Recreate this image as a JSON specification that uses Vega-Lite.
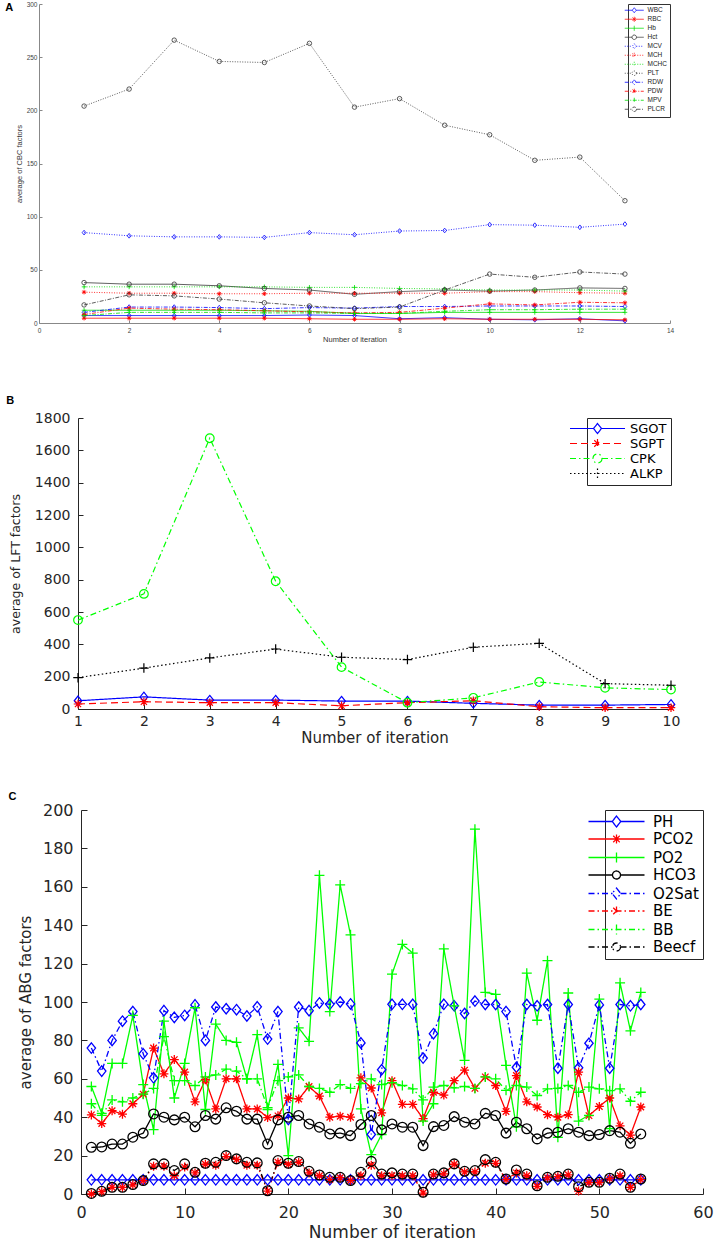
{
  "$schema": "https://vega.github.io/schema/vega-lite/v6.json",
  "background": "white",
  "padding": {"left": 5, "top": 1, "right": 0, "bottom": 0},
  "config": {"view": {"stroke": null}, "axis": {"grid": false, "labelOverlap": false, "labelFlush": false, "titleFontWeight": "normal", "format": "d"}},
  "datasets": {
    "a": [
      {"s":"WBC","i":1,"v":7},{"s":"WBC","i":2,"v":7},{"s":"WBC","i":3,"v":7},{"s":"WBC","i":4,"v":7},{"s":"WBC","i":5,"v":7},{"s":"WBC","i":6,"v":7.5},{"s":"WBC","i":7,"v":7},{"s":"WBC","i":8,"v":4},{"s":"WBC","i":9,"v":5},{"s":"WBC","i":10,"v":3.5},{"s":"WBC","i":11,"v":3},{"s":"WBC","i":12,"v":4},{"s":"WBC","i":13,"v":2},
      {"s":"RBC","i":1,"v":4.5},{"s":"RBC","i":2,"v":4.5},{"s":"RBC","i":3,"v":4.5},{"s":"RBC","i":4,"v":4.5},{"s":"RBC","i":5,"v":4.5},{"s":"RBC","i":6,"v":4},{"s":"RBC","i":7,"v":3.5},{"s":"RBC","i":8,"v":3.5},{"s":"RBC","i":9,"v":4},{"s":"RBC","i":10,"v":3.5},{"s":"RBC","i":11,"v":3.5},{"s":"RBC","i":12,"v":3.5},{"s":"RBC","i":13,"v":3},
      {"s":"Hb","i":1,"v":12},{"s":"Hb","i":2,"v":12},{"s":"Hb","i":3,"v":12},{"s":"Hb","i":4,"v":12},{"s":"Hb","i":5,"v":11.5},{"s":"Hb","i":6,"v":11},{"s":"Hb","i":7,"v":9},{"s":"Hb","i":8,"v":9},{"s":"Hb","i":9,"v":10},{"s":"Hb","i":10,"v":10},{"s":"Hb","i":11,"v":10},{"s":"Hb","i":12,"v":10},{"s":"Hb","i":13,"v":10},
      {"s":"Hct","i":1,"v":38},{"s":"Hct","i":2,"v":36.5},{"s":"Hct","i":3,"v":36.5},{"s":"Hct","i":4,"v":35},{"s":"Hct","i":5,"v":32.5},{"s":"Hct","i":6,"v":31},{"s":"Hct","i":7,"v":27},{"s":"Hct","i":8,"v":29.5},{"s":"Hct","i":9,"v":31},{"s":"Hct","i":10,"v":30},{"s":"Hct","i":11,"v":31},{"s":"Hct","i":12,"v":33},{"s":"Hct","i":13,"v":32.5},
      {"s":"MCV","i":1,"v":85},{"s":"MCV","i":2,"v":82},{"s":"MCV","i":3,"v":81},{"s":"MCV","i":4,"v":81},{"s":"MCV","i":5,"v":80.5},{"s":"MCV","i":6,"v":85},{"s":"MCV","i":7,"v":83},{"s":"MCV","i":8,"v":86.5},{"s":"MCV","i":9,"v":87},{"s":"MCV","i":10,"v":92.5},{"s":"MCV","i":11,"v":92},{"s":"MCV","i":12,"v":90},{"s":"MCV","i":13,"v":93},
      {"s":"MCH","i":1,"v":29},{"s":"MCH","i":2,"v":28},{"s":"MCH","i":3,"v":28},{"s":"MCH","i":4,"v":27.5},{"s":"MCH","i":5,"v":27.5},{"s":"MCH","i":6,"v":28},{"s":"MCH","i":7,"v":28},{"s":"MCH","i":8,"v":28},{"s":"MCH","i":9,"v":28},{"s":"MCH","i":10,"v":29.5},{"s":"MCH","i":11,"v":29.5},{"s":"MCH","i":12,"v":28.5},{"s":"MCH","i":13,"v":28},
      {"s":"MCHC","i":1,"v":34},{"s":"MCHC","i":2,"v":34},{"s":"MCHC","i":3,"v":34},{"s":"MCHC","i":4,"v":34},{"s":"MCHC","i":5,"v":34},{"s":"MCHC","i":6,"v":33.5},{"s":"MCHC","i":7,"v":33.5},{"s":"MCHC","i":8,"v":32.5},{"s":"MCHC","i":9,"v":32},{"s":"MCHC","i":10,"v":31},{"s":"MCHC","i":11,"v":31},{"s":"MCHC","i":12,"v":31},{"s":"MCHC","i":13,"v":30},
      {"s":"PLT","i":1,"v":204},{"s":"PLT","i":2,"v":220},{"s":"PLT","i":3,"v":266},{"s":"PLT","i":4,"v":246},{"s":"PLT","i":5,"v":245},{"s":"PLT","i":6,"v":263},{"s":"PLT","i":7,"v":203},{"s":"PLT","i":8,"v":211},{"s":"PLT","i":9,"v":186},{"s":"PLT","i":10,"v":177},{"s":"PLT","i":11,"v":153},{"s":"PLT","i":12,"v":156},{"s":"PLT","i":13,"v":115},
      {"s":"RDW","i":1,"v":10},{"s":"RDW","i":2,"v":15},{"s":"RDW","i":3,"v":15},{"s":"RDW","i":4,"v":14.5},{"s":"RDW","i":5,"v":13.5},{"s":"RDW","i":6,"v":14.5},{"s":"RDW","i":7,"v":14},{"s":"RDW","i":8,"v":15.5},{"s":"RDW","i":9,"v":15.5},{"s":"RDW","i":10,"v":16},{"s":"RDW","i":11,"v":16},{"s":"RDW","i":12,"v":16},{"s":"RDW","i":13,"v":15.5},
      {"s":"PDW","i":1,"v":8},{"s":"PDW","i":2,"v":14},{"s":"PDW","i":3,"v":13},{"s":"PDW","i":4,"v":12.5},{"s":"PDW","i":5,"v":11.5},{"s":"PDW","i":6,"v":10.5},{"s":"PDW","i":7,"v":9.5},{"s":"PDW","i":8,"v":10},{"s":"PDW","i":9,"v":14},{"s":"PDW","i":10,"v":18},{"s":"PDW","i":11,"v":17},{"s":"PDW","i":12,"v":19.5},{"s":"PDW","i":13,"v":19},
      {"s":"MPV","i":1,"v":7},{"s":"MPV","i":2,"v":10},{"s":"MPV","i":3,"v":10},{"s":"MPV","i":4,"v":10},{"s":"MPV","i":5,"v":9.5},{"s":"MPV","i":6,"v":9.5},{"s":"MPV","i":7,"v":9},{"s":"MPV","i":8,"v":9},{"s":"MPV","i":9,"v":11},{"s":"MPV","i":10,"v":12.5},{"s":"MPV","i":11,"v":12.5},{"s":"MPV","i":12,"v":13},{"s":"MPV","i":13,"v":13},
      {"s":"PLCR","i":1,"v":17},{"s":"PLCR","i":2,"v":26.5},{"s":"PLCR","i":3,"v":25.5},{"s":"PLCR","i":4,"v":22.5},{"s":"PLCR","i":5,"v":19},{"s":"PLCR","i":6,"v":16},{"s":"PLCR","i":7,"v":13.5},{"s":"PLCR","i":8,"v":15},{"s":"PLCR","i":9,"v":31},{"s":"PLCR","i":10,"v":46},{"s":"PLCR","i":11,"v":43},{"s":"PLCR","i":12,"v":48},{"s":"PLCR","i":13,"v":46}
    ],
    "b": [
      {"s":"SGOT","i":1,"v":51},{"s":"SGOT","i":2,"v":75},{"s":"SGOT","i":3,"v":55},{"s":"SGOT","i":4,"v":55},{"s":"SGOT","i":5,"v":49},{"s":"SGOT","i":6,"v":49},{"s":"SGOT","i":7,"v":35},{"s":"SGOT","i":8,"v":24},{"s":"SGOT","i":9,"v":24},{"s":"SGOT","i":10,"v":28},
      {"s":"SGPT","i":1,"v":31},{"s":"SGPT","i":2,"v":45},{"s":"SGPT","i":3,"v":39},{"s":"SGPT","i":4,"v":39},{"s":"SGPT","i":5,"v":20},{"s":"SGPT","i":6,"v":39},{"s":"SGPT","i":7,"v":51},{"s":"SGPT","i":8,"v":14},{"s":"SGPT","i":9,"v":8},{"s":"SGPT","i":10,"v":8},
      {"s":"CPK","i":1,"v":550},{"s":"CPK","i":2,"v":712},{"s":"CPK","i":3,"v":1675},{"s":"CPK","i":4,"v":790},{"s":"CPK","i":5,"v":259},{"s":"CPK","i":6,"v":39},{"s":"CPK","i":7,"v":69},{"s":"CPK","i":8,"v":167},{"s":"CPK","i":9,"v":131},{"s":"CPK","i":10,"v":120},
      {"s":"ALKP","i":1,"v":194},{"s":"ALKP","i":2,"v":253},{"s":"ALKP","i":3,"v":316},{"s":"ALKP","i":4,"v":371},{"s":"ALKP","i":5,"v":320},{"s":"ALKP","i":6,"v":306},{"s":"ALKP","i":7,"v":382},{"s":"ALKP","i":8,"v":406},{"s":"ALKP","i":9,"v":157},{"s":"ALKP","i":10,"v":147}
    ],
    "c": [
      {"s":"PH","i":1,"v":7.4},{"s":"PH","i":2,"v":7.4},{"s":"PH","i":3,"v":7.4},{"s":"PH","i":4,"v":7.4},{"s":"PH","i":5,"v":7.4},{"s":"PH","i":6,"v":7.4},{"s":"PH","i":7,"v":7.4},{"s":"PH","i":8,"v":7.4},{"s":"PH","i":9,"v":7.4},{"s":"PH","i":10,"v":7.4},{"s":"PH","i":11,"v":7.4},{"s":"PH","i":12,"v":7.4},{"s":"PH","i":13,"v":7.4},{"s":"PH","i":14,"v":7.4},{"s":"PH","i":15,"v":7.4},{"s":"PH","i":16,"v":7.4},{"s":"PH","i":17,"v":7.4},{"s":"PH","i":18,"v":7.4},{"s":"PH","i":19,"v":7.4},{"s":"PH","i":20,"v":7.4},{"s":"PH","i":21,"v":7.4},{"s":"PH","i":22,"v":7.4},{"s":"PH","i":23,"v":7.4},{"s":"PH","i":24,"v":7.4},{"s":"PH","i":25,"v":7.4},{"s":"PH","i":26,"v":7.4},{"s":"PH","i":27,"v":7.4},{"s":"PH","i":28,"v":7.4},{"s":"PH","i":29,"v":7.4},{"s":"PH","i":30,"v":7.4},{"s":"PH","i":31,"v":7.4},{"s":"PH","i":32,"v":7.4},{"s":"PH","i":33,"v":7.4},{"s":"PH","i":34,"v":7.4},{"s":"PH","i":35,"v":7.4},{"s":"PH","i":36,"v":7.4},{"s":"PH","i":37,"v":7.4},{"s":"PH","i":38,"v":7.4},{"s":"PH","i":39,"v":7.4},{"s":"PH","i":40,"v":7.4},{"s":"PH","i":41,"v":7.4},{"s":"PH","i":42,"v":7.4},{"s":"PH","i":43,"v":7.4},{"s":"PH","i":44,"v":7.4},{"s":"PH","i":45,"v":7.4},{"s":"PH","i":46,"v":7.4},{"s":"PH","i":47,"v":7.4},{"s":"PH","i":48,"v":7.4},{"s":"PH","i":49,"v":7.4},{"s":"PH","i":50,"v":7.4},{"s":"PH","i":51,"v":7.4},{"s":"PH","i":52,"v":7.4},{"s":"PH","i":53,"v":7.4},{"s":"PH","i":54,"v":7.4},
      {"s":"PCO2","i":1,"v":41.2},{"s":"PCO2","i":2,"v":36.7},{"s":"PCO2","i":3,"v":43.4},{"s":"PCO2","i":4,"v":41.6},{"s":"PCO2","i":5,"v":47},{"s":"PCO2","i":6,"v":52},{"s":"PCO2","i":7,"v":76},{"s":"PCO2","i":8,"v":62.6},{"s":"PCO2","i":9,"v":70},{"s":"PCO2","i":10,"v":63.5},{"s":"PCO2","i":11,"v":48},{"s":"PCO2","i":12,"v":59.5},{"s":"PCO2","i":13,"v":44.3},{"s":"PCO2","i":14,"v":60},{"s":"PCO2","i":15,"v":60},{"s":"PCO2","i":16,"v":44.3},{"s":"PCO2","i":17,"v":44.3},{"s":"PCO2","i":18,"v":39.8},{"s":"PCO2","i":19,"v":40.7},{"s":"PCO2","i":20,"v":50},{"s":"PCO2","i":21,"v":49.5},{"s":"PCO2","i":22,"v":56},{"s":"PCO2","i":23,"v":51},{"s":"PCO2","i":24,"v":40},{"s":"PCO2","i":25,"v":40.5},{"s":"PCO2","i":26,"v":40},{"s":"PCO2","i":27,"v":60.5},{"s":"PCO2","i":28,"v":55.2},{"s":"PCO2","i":29,"v":42.3},{"s":"PCO2","i":30,"v":59},{"s":"PCO2","i":31,"v":46.7},{"s":"PCO2","i":32,"v":46.7},{"s":"PCO2","i":33,"v":39.3},{"s":"PCO2","i":34,"v":53},{"s":"PCO2","i":35,"v":51.5},{"s":"PCO2","i":36,"v":59},{"s":"PCO2","i":37,"v":64.5},{"s":"PCO2","i":38,"v":55},{"s":"PCO2","i":39,"v":61},{"s":"PCO2","i":40,"v":56.5},{"s":"PCO2","i":41,"v":43},{"s":"PCO2","i":42,"v":61.7},{"s":"PCO2","i":43,"v":48},{"s":"PCO2","i":44,"v":45.3},{"s":"PCO2","i":45,"v":41.3},{"s":"PCO2","i":46,"v":40},{"s":"PCO2","i":47,"v":41.3},{"s":"PCO2","i":48,"v":63.5},{"s":"PCO2","i":49,"v":40.8},{"s":"PCO2","i":50,"v":45.6},{"s":"PCO2","i":51,"v":50},{"s":"PCO2","i":52,"v":35.5},{"s":"PCO2","i":53,"v":30.7},{"s":"PCO2","i":54,"v":45.3},
      {"s":"PO2","i":1,"v":56},{"s":"PO2","i":2,"v":42},{"s":"PO2","i":3,"v":68},{"s":"PO2","i":4,"v":68},{"s":"PO2","i":5,"v":93},{"s":"PO2","i":6,"v":57},{"s":"PO2","i":7,"v":33.5},{"s":"PO2","i":8,"v":90},{"s":"PO2","i":9,"v":50},{"s":"PO2","i":10,"v":68},{"s":"PO2","i":11,"v":97},{"s":"PO2","i":12,"v":44},{"s":"PO2","i":13,"v":88.5},{"s":"PO2","i":14,"v":80},{"s":"PO2","i":15,"v":79},{"s":"PO2","i":16,"v":60},{"s":"PO2","i":17,"v":83},{"s":"PO2","i":18,"v":44},{"s":"PO2","i":19,"v":67.5},{"s":"PO2","i":20,"v":20},{"s":"PO2","i":21,"v":86.5},{"s":"PO2","i":22,"v":79.5},{"s":"PO2","i":23,"v":166},{"s":"PO2","i":24,"v":95},{"s":"PO2","i":25,"v":161},{"s":"PO2","i":26,"v":135},{"s":"PO2","i":27,"v":44.3},{"s":"PO2","i":28,"v":20.5},{"s":"PO2","i":29,"v":31},{"s":"PO2","i":30,"v":114.5},{"s":"PO2","i":31,"v":130},{"s":"PO2","i":32,"v":125.5},{"s":"PO2","i":33,"v":38},{"s":"PO2","i":34,"v":47},{"s":"PO2","i":35,"v":127.7},{"s":"PO2","i":36,"v":98},{"s":"PO2","i":37,"v":69.6},{"s":"PO2","i":38,"v":190},{"s":"PO2","i":39,"v":105},{"s":"PO2","i":40,"v":104},{"s":"PO2","i":41,"v":67},{"s":"PO2","i":42,"v":35},{"s":"PO2","i":43,"v":115},{"s":"PO2","i":44,"v":90.5},{"s":"PO2","i":45,"v":121.5},{"s":"PO2","i":46,"v":29.5},{"s":"PO2","i":47,"v":104.7},{"s":"PO2","i":48,"v":38},{"s":"PO2","i":49,"v":41},{"s":"PO2","i":50,"v":101.5},{"s":"PO2","i":51,"v":34},{"s":"PO2","i":52,"v":110},{"s":"PO2","i":53,"v":85},{"s":"PO2","i":54,"v":105},
      {"s":"HCO3","i":1,"v":24.3},{"s":"HCO3","i":2,"v":24.5},{"s":"HCO3","i":3,"v":26},{"s":"HCO3","i":4,"v":26},{"s":"HCO3","i":5,"v":29.6},{"s":"HCO3","i":6,"v":31.7},{"s":"HCO3","i":7,"v":41.7},{"s":"HCO3","i":8,"v":40},{"s":"HCO3","i":9,"v":38.6},{"s":"HCO3","i":10,"v":40},{"s":"HCO3","i":11,"v":35},{"s":"HCO3","i":12,"v":40.9},{"s":"HCO3","i":13,"v":39},{"s":"HCO3","i":14,"v":44.9},{"s":"HCO3","i":15,"v":43.1},{"s":"HCO3","i":16,"v":39},{"s":"HCO3","i":17,"v":39},{"s":"HCO3","i":18,"v":26},{"s":"HCO3","i":19,"v":38.6},{"s":"HCO3","i":20,"v":40},{"s":"HCO3","i":21,"v":40.9},{"s":"HCO3","i":22,"v":36.5},{"s":"HCO3","i":23,"v":34.8},{"s":"HCO3","i":24,"v":31.3},{"s":"HCO3","i":25,"v":31.7},{"s":"HCO3","i":26,"v":30.4},{"s":"HCO3","i":27,"v":36.2},{"s":"HCO3","i":28,"v":40.9},{"s":"HCO3","i":29,"v":33.4},{"s":"HCO3","i":30,"v":36.5},{"s":"HCO3","i":31,"v":34.8},{"s":"HCO3","i":32,"v":34.8},{"s":"HCO3","i":33,"v":25.2},{"s":"HCO3","i":34,"v":35.1},{"s":"HCO3","i":35,"v":35.7},{"s":"HCO3","i":36,"v":40.3},{"s":"HCO3","i":37,"v":37.4},{"s":"HCO3","i":38,"v":36.5},{"s":"HCO3","i":39,"v":42},{"s":"HCO3","i":40,"v":40.9},{"s":"HCO3","i":41,"v":31.7},{"s":"HCO3","i":42,"v":37.4},{"s":"HCO3","i":43,"v":34},{"s":"HCO3","i":44,"v":28.7},{"s":"HCO3","i":45,"v":31.7},{"s":"HCO3","i":46,"v":32.2},{"s":"HCO3","i":47,"v":34},{"s":"HCO3","i":48,"v":32.2},{"s":"HCO3","i":49,"v":30.4},{"s":"HCO3","i":50,"v":31},{"s":"HCO3","i":51,"v":33},{"s":"HCO3","i":52,"v":32.2},{"s":"HCO3","i":53,"v":26.4},{"s":"HCO3","i":54,"v":31.3},
      {"s":"O2Sat","i":1,"v":76},{"s":"O2Sat","i":2,"v":64},{"s":"O2Sat","i":3,"v":80},{"s":"O2Sat","i":4,"v":90},{"s":"O2Sat","i":5,"v":95},{"s":"O2Sat","i":6,"v":73},{"s":"O2Sat","i":7,"v":60.5},{"s":"O2Sat","i":8,"v":95.5},{"s":"O2Sat","i":9,"v":92},{"s":"O2Sat","i":10,"v":93},{"s":"O2Sat","i":11,"v":98.5},{"s":"O2Sat","i":12,"v":80},{"s":"O2Sat","i":13,"v":97.4},{"s":"O2Sat","i":14,"v":96.5},{"s":"O2Sat","i":15,"v":96},{"s":"O2Sat","i":16,"v":92.7},{"s":"O2Sat","i":17,"v":97.5},{"s":"O2Sat","i":18,"v":80.7},{"s":"O2Sat","i":19,"v":95},{"s":"O2Sat","i":20,"v":38.8},{"s":"O2Sat","i":21,"v":97.4},{"s":"O2Sat","i":22,"v":95.5},{"s":"O2Sat","i":23,"v":99.5},{"s":"O2Sat","i":24,"v":98.8},{"s":"O2Sat","i":25,"v":100},{"s":"O2Sat","i":26,"v":99},{"s":"O2Sat","i":27,"v":78.7},{"s":"O2Sat","i":28,"v":31},{"s":"O2Sat","i":29,"v":64.7},{"s":"O2Sat","i":30,"v":98.8},{"s":"O2Sat","i":31,"v":98.8},{"s":"O2Sat","i":32,"v":98.8},{"s":"O2Sat","i":33,"v":70.8},{"s":"O2Sat","i":34,"v":83.5},{"s":"O2Sat","i":35,"v":98.8},{"s":"O2Sat","i":36,"v":98},{"s":"O2Sat","i":37,"v":94},{"s":"O2Sat","i":38,"v":100.5},{"s":"O2Sat","i":39,"v":98.7},{"s":"O2Sat","i":40,"v":98.7},{"s":"O2Sat","i":41,"v":95},{"s":"O2Sat","i":42,"v":66},{"s":"O2Sat","i":43,"v":98.7},{"s":"O2Sat","i":44,"v":98},{"s":"O2Sat","i":45,"v":98.7},{"s":"O2Sat","i":46,"v":65.5},{"s":"O2Sat","i":47,"v":98.7},{"s":"O2Sat","i":48,"v":65.7},{"s":"O2Sat","i":49,"v":78.5},{"s":"O2Sat","i":50,"v":98.5},{"s":"O2Sat","i":51,"v":65.5},{"s":"O2Sat","i":52,"v":98.7},{"s":"O2Sat","i":53,"v":98},{"s":"O2Sat","i":54,"v":98.7},
      {"s":"BE","i":1,"v":0},{"s":"BE","i":2,"v":1.2},{"s":"BE","i":3,"v":3.5},{"s":"BE","i":4,"v":3.4},{"s":"BE","i":5,"v":4.8},{"s":"BE","i":6,"v":7},{"s":"BE","i":7,"v":14.5},{"s":"BE","i":8,"v":14.5},{"s":"BE","i":9,"v":9.5},{"s":"BE","i":10,"v":14},{"s":"BE","i":11,"v":11},{"s":"BE","i":12,"v":15.5},{"s":"BE","i":13,"v":15},{"s":"BE","i":14,"v":19.5},{"s":"BE","i":15,"v":18},{"s":"BE","i":16,"v":15},{"s":"BE","i":17,"v":15},{"s":"BE","i":18,"v":1.5},{"s":"BE","i":19,"v":16.5},{"s":"BE","i":20,"v":15.5},{"s":"BE","i":21,"v":16.5},{"s":"BE","i":22,"v":11},{"s":"BE","i":23,"v":9.5},{"s":"BE","i":24,"v":7.5},{"s":"BE","i":25,"v":8.5},{"s":"BE","i":26,"v":7},{"s":"BE","i":27,"v":9.5},{"s":"BE","i":28,"v":15},{"s":"BE","i":29,"v":9.5},{"s":"BE","i":30,"v":9.5},{"s":"BE","i":31,"v":9.5},{"s":"BE","i":32,"v":9.5},{"s":"BE","i":33,"v":0.5},{"s":"BE","i":34,"v":10},{"s":"BE","i":35,"v":10.5},{"s":"BE","i":36,"v":15.5},{"s":"BE","i":37,"v":11.5},{"s":"BE","i":38,"v":11.5},{"s":"BE","i":39,"v":16},{"s":"BE","i":40,"v":16},{"s":"BE","i":41,"v":7.5},{"s":"BE","i":42,"v":11},{"s":"BE","i":43,"v":9.5},{"s":"BE","i":44,"v":4},{"s":"BE","i":45,"v":8.5},{"s":"BE","i":46,"v":9},{"s":"BE","i":47,"v":10},{"s":"BE","i":48,"v":1.5},{"s":"BE","i":49,"v":6},{"s":"BE","i":50,"v":6},{"s":"BE","i":51,"v":8},{"s":"BE","i":52,"v":9.5},{"s":"BE","i":53,"v":3.5},{"s":"BE","i":54,"v":7.5},
      {"s":"BB","i":1,"v":47},{"s":"BB","i":2,"v":41},{"s":"BB","i":3,"v":49},{"s":"BB","i":4,"v":48},{"s":"BB","i":5,"v":50},{"s":"BB","i":6,"v":52},{"s":"BB","i":7,"v":55},{"s":"BB","i":8,"v":82},{"s":"BB","i":9,"v":59},{"s":"BB","i":10,"v":59},{"s":"BB","i":11,"v":56.5},{"s":"BB","i":12,"v":61},{"s":"BB","i":13,"v":62},{"s":"BB","i":14,"v":65},{"s":"BB","i":15,"v":64},{"s":"BB","i":16,"v":60},{"s":"BB","i":17,"v":60},{"s":"BB","i":18,"v":45},{"s":"BB","i":19,"v":59},{"s":"BB","i":20,"v":61},{"s":"BB","i":21,"v":62},{"s":"BB","i":22,"v":56},{"s":"BB","i":23,"v":55},{"s":"BB","i":24,"v":53},{"s":"BB","i":25,"v":57},{"s":"BB","i":26,"v":55},{"s":"BB","i":27,"v":57.5},{"s":"BB","i":28,"v":60},{"s":"BB","i":29,"v":57},{"s":"BB","i":30,"v":58},{"s":"BB","i":31,"v":56.5},{"s":"BB","i":32,"v":54.8},{"s":"BB","i":33,"v":49},{"s":"BB","i":34,"v":55.7},{"s":"BB","i":35,"v":56.5},{"s":"BB","i":36,"v":55.3},{"s":"BB","i":37,"v":56},{"s":"BB","i":38,"v":55},{"s":"BB","i":39,"v":61},{"s":"BB","i":40,"v":60},{"s":"BB","i":41,"v":54},{"s":"BB","i":42,"v":56.5},{"s":"BB","i":43,"v":55.7},{"s":"BB","i":44,"v":51.3},{"s":"BB","i":45,"v":54.8},{"s":"BB","i":46,"v":55},{"s":"BB","i":47,"v":56.5},{"s":"BB","i":48,"v":53},{"s":"BB","i":49,"v":55.7},{"s":"BB","i":50,"v":54.8},{"s":"BB","i":51,"v":53.8},{"s":"BB","i":52,"v":54.8},{"s":"BB","i":53,"v":48.3},{"s":"BB","i":54,"v":53},
      {"s":"Beecf","i":1,"v":0.3},{"s":"Beecf","i":2,"v":1.4},{"s":"Beecf","i":3,"v":3.5},{"s":"Beecf","i":4,"v":3.5},{"s":"Beecf","i":5,"v":4.9},{"s":"Beecf","i":6,"v":7},{"s":"Beecf","i":7,"v":15.7},{"s":"Beecf","i":8,"v":15.7},{"s":"Beecf","i":9,"v":12.2},{"s":"Beecf","i":10,"v":15.7},{"s":"Beecf","i":11,"v":11.3},{"s":"Beecf","i":12,"v":16},{"s":"Beecf","i":13,"v":16.5},{"s":"Beecf","i":14,"v":20},{"s":"Beecf","i":15,"v":18.3},{"s":"Beecf","i":16,"v":16.5},{"s":"Beecf","i":17,"v":16.2},{"s":"Beecf","i":18,"v":1.7},{"s":"Beecf","i":19,"v":17.4},{"s":"Beecf","i":20,"v":16},{"s":"Beecf","i":21,"v":16.9},{"s":"Beecf","i":22,"v":11.8},{"s":"Beecf","i":23,"v":9.9},{"s":"Beecf","i":24,"v":8.7},{"s":"Beecf","i":25,"v":8.7},{"s":"Beecf","i":26,"v":7},{"s":"Beecf","i":27,"v":11.3},{"s":"Beecf","i":28,"v":17},{"s":"Beecf","i":29,"v":10.4},{"s":"Beecf","i":30,"v":11},{"s":"Beecf","i":31,"v":10.4},{"s":"Beecf","i":32,"v":10.4},{"s":"Beecf","i":33,"v":0.9},{"s":"Beecf","i":34,"v":10.4},{"s":"Beecf","i":35,"v":11},{"s":"Beecf","i":36,"v":15.7},{"s":"Beecf","i":37,"v":11.8},{"s":"Beecf","i":38,"v":12.2},{"s":"Beecf","i":39,"v":17.9},{"s":"Beecf","i":40,"v":16.5},{"s":"Beecf","i":41,"v":7.8},{"s":"Beecf","i":42,"v":12.5},{"s":"Beecf","i":43,"v":10.4},{"s":"Beecf","i":44,"v":4.3},{"s":"Beecf","i":45,"v":8.7},{"s":"Beecf","i":46,"v":9.2},{"s":"Beecf","i":47,"v":10.4},{"s":"Beecf","i":48,"v":3.8},{"s":"Beecf","i":49,"v":6.1},{"s":"Beecf","i":50,"v":6.1},{"s":"Beecf","i":51,"v":8.2},{"s":"Beecf","i":52,"v":10.4},{"s":"Beecf","i":53,"v":3.5},{"s":"Beecf","i":54,"v":7.8}
    ]
  },
  "columns": 1,
  "align": "none",
  "spacing": 52,
  "resolve": {"scale": {"color": "independent", "strokeDash": "independent"}, "legend": {"color": "independent", "strokeDash": "independent"}},
  "concat": [
    {
      "width": 592, "height": 319,
      "data": {"name": "a"},
      "title": {"text": "A", "anchor": "start", "frame": "bounds", "font": "Liberation Sans", "fontSize": 11, "fontWeight": "bold", "color": "#000", "offset": -12, "dx": -10},
      "encoding": {
        "x": {"field": "i", "type": "quantitative", "scale": {"domain": [0, 14], "nice": false, "range": [-39, 592]},
          "axis": {"values": [0,2,4,6,8,10,12,14], "title": "Number of iteration", "labelFont": "Liberation Sans", "labelFontSize": 6.5, "titleFont": "Liberation Sans", "titleFontSize": 7.5, "labelColor": "#444", "titleColor": "#333", "domainColor": "#888", "tickColor": "#888", "tickSize": -3, "labelPadding": 7, "titlePadding": 2}},
        "y": {"field": "v", "type": "quantitative", "scale": {"domain": [0, 300], "nice": false},
          "axis": {"values": [0,50,100,150,200,250,300], "offset": 39, "title": "average of CBC factors", "labelFont": "Liberation Sans", "labelFontSize": 6.5, "titleFont": "Liberation Sans", "titleFontSize": 7.5, "labelColor": "#444", "titleColor": "#333", "domainColor": "#888", "tickColor": "#888", "tickSize": -3, "labelPadding": 5, "titlePadding": 3}},
        "color": {"field": "s", "type": "nominal", "legend": null,
          "scale": {"domain": ["WBC","RBC","Hb","Hct","MCV","MCH","MCHC","PLT","RDW","PDW","MPV","PLCR"], "range": ["#0000ff","#ff0000","#00dd00","#333333","#0000ff","#ff0000","#00dd00","#333333","#0000ff","#ff0000","#00dd00","#333333"]}}
      },
      "layer": [
        {"mark": {"type": "line", "strokeWidth": 0.8},
         "encoding": {
           "color": {"field": "s", "type": "nominal",
             "legend": {"title": null, "orient": "top-right", "offset": 0, "strokeColor": "#333", "fillColor": "white", "padding": 3, "labelFont": "Liberation Sans", "labelFontSize": 6.5, "labelColor": "#222", "symbolSize": 25, "symbolStrokeWidth": 0.8, "symbolOffset": 0, "labelOffset": 10, "rowPadding": 0,
               "encode": {"symbols": {"update": {
                 "shape": {"signal": "indexof(['WBC','MCV','RDW'],datum.value)>=0 ? 'M-3.8,0L-0.8,0M0.8,0L3.8,0M0,-1L0.8,0L0,1L-0.8,0Z' : indexof(['RBC','MCH','PDW'],datum.value)>=0 ? 'M-3.8,0L3.8,0M0,-1L0,1M-0.7,-0.7L0.7,0.7M-0.7,0.7L0.7,-0.7' : indexof(['Hb','MCHC','MPV'],datum.value)>=0 ? 'M-3.8,0L3.8,0M0,-1L0,1' : 'M-3.8,0L-0.9,0M0.9,0L3.8,0M0.9,0A0.9,0.9,0,1,1,-0.9,0A0.9,0.9,0,1,1,0.9,0'"},
                 "strokeDash": {"signal": "indexof(['MCV','MCH','MCHC','PLT'],datum.value)>=0 ? [1,1.5] : indexof(['RDW','PDW','MPV','PLCR'],datum.value)>=0 ? [4,1.5,1,1.5] : [1,0]"},
                 "fill": {"value": "transparent"}}}}}},
           "strokeDash": {"field": "s", "type": "nominal", "legend": null,
             "scale": {"domain": ["WBC","RBC","Hb","Hct","MCV","MCH","MCHC","PLT","RDW","PDW","MPV","PLCR"], "range": [[1,0],[1,0],[1,0],[1,0],[1,1.5],[1,1.5],[1,1.5],[1,1.5],[4,1.5,1,1.5],[4,1.5,1,1.5],[4,1.5,1,1.5],[4,1.5,1,1.5]]}}
         }},
        {"transform": [{"filter": {"field": "s", "oneOf": ["WBC","MCV","RDW"]}}],
         "mark": {"type": "point", "shape": "M0,-1L0.8,0L0,1L-0.8,0Z", "filled": false, "size": 22, "strokeWidth": 0.8, "opacity": 1}},
        {"transform": [{"filter": {"field": "s", "oneOf": ["RBC","MCH","PDW"]}}],
         "mark": {"type": "point", "shape": "M-1,0L1,0M0,-1L0,1M-0.7,-0.7L0.7,0.7M-0.7,0.7L0.7,-0.7", "filled": false, "size": 20, "strokeWidth": 0.9, "opacity": 1}},
        {"transform": [{"filter": {"field": "s", "oneOf": ["Hb","MCHC","MPV"]}}],
         "mark": {"type": "point", "shape": "M-1,0L1,0M0,-1L0,1", "filled": false, "size": 22, "strokeWidth": 0.8, "opacity": 1}},
        {"transform": [{"filter": {"field": "s", "oneOf": ["Hct","PLT","PLCR"]}}],
         "mark": {"type": "point", "shape": "circle", "filled": false, "size": 20, "strokeWidth": 0.8, "opacity": 1}}
      ]
    },
    {
      "columns": 1,
      "align": "none",
      "spacing": 46,
      "resolve": {"scale": {"color": "independent", "strokeDash": "independent"}, "legend": {"color": "independent", "strokeDash": "independent"}},
      "concat": [
        {
          "width": 593, "height": 291,
          "data": {"name": "b"},
          "title": {"text": "B", "anchor": "start", "frame": "bounds", "font": "Liberation Sans", "fontSize": 11, "fontWeight": "bold", "color": "#000", "offset": 5, "dx": -3},
          "encoding": {
            "x": {"field": "i", "type": "quantitative", "scale": {"domain": [1, 10], "nice": false},
              "axis": {"values": [1,2,3,4,5,6,7,8,9,10], "title": "Number of iteration", "labelFont": "DejaVu Sans", "labelFontSize": 14, "titleFont": "DejaVu Sans", "titleFontSize": 15, "labelColor": "#262626", "titleColor": "#262626", "domainColor": "#262626", "tickColor": "#262626", "tickSize": -5, "labelPadding": 10, "titlePadding": 2}},
            "y": {"field": "v", "type": "quantitative", "scale": {"domain": [0, 1800], "nice": false},
              "axis": {"values": [0,200,400,600,800,1000,1200,1400,1600,1800], "title": "average of LFT factors", "labelFont": "DejaVu Sans", "labelFontSize": 14, "titleFont": "DejaVu Sans", "titleFontSize": 12.5, "labelColor": "#262626", "titleColor": "#262626", "domainColor": "#262626", "tickColor": "#262626", "tickSize": -5, "labelPadding": 13, "titlePadding": 12}},
            "color": {"field": "s", "type": "nominal", "legend": null,
              "scale": {"domain": ["SGOT","SGPT","CPK","ALKP"], "range": ["#0000ff","#ff0000","#00ff00","#000000"]}}
          },
          "layer": [
            {"mark": {"type": "line", "strokeWidth": 1.2},
             "encoding": {
               "color": {"field": "s", "type": "nominal",
                 "legend": {"title": null, "orient": "top-right", "offset": 0, "strokeColor": "#262626", "fillColor": "white", "padding": 4, "labelFont": "DejaVu Sans", "labelFontSize": 13, "labelColor": "#000", "symbolSize": 100, "symbolStrokeWidth": 1.2, "symbolOffset": 0, "labelOffset": 26, "rowPadding": 0,
                   "encode": {"symbols": {"update": {
                     "shape": {"signal": "datum.value==='SGOT' ? 'M-5.5,0L-0.8,0M0.8,0L5.5,0M0,-1L0.8,0L0,1L-0.8,0Z' : datum.value==='SGPT' ? 'M-5.5,0L5.5,0M0,-0.9L0,0.9M-0.65,-0.65L0.65,0.65M-0.65,0.65L0.65,-0.65' : datum.value==='ALKP' ? 'M-5.5,0L5.5,0M0,-1L0,1' : 'M-5.5,0L-0.9,0M0.9,0L5.5,0M0.9,0A0.9,0.9,0,1,1,-0.9,0A0.9,0.9,0,1,1,0.9,0'"},
                     "strokeDash": {"signal": "datum.value==='SGPT' ? [7,4] : datum.value==='CPK' ? [6,3,1.5,3] : datum.value==='ALKP' ? [1.5,2.5] : [1,0]"},
                     "fill": {"value": "transparent"}}}}}},
               "strokeDash": {"field": "s", "type": "nominal", "legend": null,
                 "scale": {"domain": ["SGOT","SGPT","CPK","ALKP"], "range": [[1,0],[7,4],[6,3,1.5,3],[1.5,2.5]]}}
             }},
            {"transform": [{"filter": {"field": "s", "equal": "SGOT"}}],
             "mark": {"type": "point", "shape": "M0,-1L0.8,0L0,1L-0.8,0Z", "filled": false, "size": 90, "strokeWidth": 1.2, "opacity": 1}},
            {"transform": [{"filter": {"field": "s", "equal": "SGPT"}}],
             "mark": {"type": "point", "shape": "M-0.9,0L0.9,0M0,-0.9L0,0.9M-0.65,-0.65L0.65,0.65M-0.65,0.65L0.65,-0.65", "filled": false, "size": 90, "strokeWidth": 1.2, "opacity": 1}},
            {"transform": [{"filter": {"field": "s", "equal": "CPK"}}],
             "mark": {"type": "point", "shape": "circle", "filled": false, "size": 75, "strokeWidth": 1.2, "opacity": 1}},
            {"transform": [{"filter": {"field": "s", "equal": "ALKP"}}],
             "mark": {"type": "point", "shape": "M-1,0L1,0M0,-1L0,1", "filled": false, "size": 90, "strokeWidth": 1.2, "opacity": 1}}
          ]
        },
        {
          "width": 625, "height": 384,
          "data": {"name": "c"},
          "title": {"text": "C", "anchor": "start", "frame": "bounds", "font": "Liberation Sans", "fontSize": 11, "fontWeight": "bold", "color": "#000", "offset": 0, "dx": -10},
          "encoding": {
            "x": {"field": "i", "type": "quantitative", "scale": {"domain": [0, 60], "nice": false, "range": [3, 625]},
              "axis": {"values": [0,10,20,30,40,50,60], "title": "Number of iteration", "labelFont": "DejaVu Sans", "labelFontSize": 16, "titleFont": "DejaVu Sans", "titleFontSize": 17, "labelColor": "#262626", "titleColor": "#262626", "domainColor": "#262626", "tickColor": "#262626", "tickSize": -6, "labelPadding": 16, "titlePadding": 4}},
            "y": {"field": "v", "type": "quantitative", "scale": {"domain": [0, 200], "nice": false},
              "axis": {"values": [0,20,40,60,80,100,120,140,160,180,200], "offset": -3, "title": "average of ABG factors", "labelFont": "DejaVu Sans", "labelFontSize": 16, "titleFont": "DejaVu Sans", "titleFontSize": 15, "labelColor": "#262626", "titleColor": "#262626", "domainColor": "#262626", "tickColor": "#262626", "tickSize": -6, "labelPadding": 14, "titlePadding": 9}},
            "color": {"field": "s", "type": "nominal", "legend": null,
              "scale": {"domain": ["PH","PCO2","PO2","HCO3","O2Sat","BE","BB","Beecf"], "range": ["#0000ff","#ff0000","#00ff00","#000000","#0000ff","#ff0000","#00ff00","#000000"]}}
          },
          "layer": [
            {"mark": {"type": "line", "strokeWidth": 1.3},
             "encoding": {
               "color": {"field": "s", "type": "nominal",
                 "legend": {"title": null, "orient": "top-right", "offset": 0, "strokeColor": "#262626", "fillColor": "white", "padding": 4, "labelFont": "DejaVu Sans", "labelFontSize": 15, "labelColor": "#000", "symbolSize": 100, "symbolStrokeWidth": 1.3, "symbolOffset": 0, "labelOffset": 29, "rowPadding": 1.5,
                   "encode": {"symbols": {"update": {
                     "shape": {"signal": "indexof(['PH','O2Sat'],datum.value)>=0 ? 'M-5.6,0L-0.8,0M0.8,0L5.6,0M0,-1.1L0.85,0L0,1.1L-0.85,0Z' : indexof(['PCO2','BE'],datum.value)>=0 ? 'M-5.6,0L5.6,0M0,-0.9L0,0.9M-0.65,-0.65L0.65,0.65M-0.65,0.65L0.65,-0.65' : indexof(['PO2','BB'],datum.value)>=0 ? 'M-5.6,0L5.6,0M0,-1L0,1' : 'M-5.6,0L-0.8,0M0.8,0L5.6,0M0.8,0A0.8,0.8,0,1,1,-0.8,0A0.8,0.8,0,1,1,0.8,0'"},
                     "strokeDash": {"signal": "indexof(['O2Sat','BE','BB','Beecf'],datum.value)>=0 ? [6,3,1.5,3] : [1,0]"},
                     "fill": {"value": "transparent"}}}}}},
               "strokeDash": {"field": "s", "type": "nominal", "legend": null,
                 "scale": {"domain": ["PH","PCO2","PO2","HCO3","O2Sat","BE","BB","Beecf"], "range": [[1,0],[1,0],[1,0],[1,0],[6,3,1.5,3],[6,3,1.5,3],[6,3,1.5,3],[6,3,1.5,3]]}}
             }},
            {"transform": [{"filter": {"field": "s", "oneOf": ["PH","O2Sat"]}}],
             "mark": {"type": "point", "shape": "M0,-1L0.8,0L0,1L-0.8,0Z", "filled": false, "size": 110, "strokeWidth": 1.3, "opacity": 1}},
            {"transform": [{"filter": {"field": "s", "oneOf": ["PCO2","BE"]}}],
             "mark": {"type": "point", "shape": "M-0.9,0L0.9,0M0,-0.9L0,0.9M-0.65,-0.65L0.65,0.65M-0.65,0.65L0.65,-0.65", "filled": false, "size": 100, "strokeWidth": 1.3, "opacity": 1}},
            {"transform": [{"filter": {"field": "s", "oneOf": ["PO2","BB"]}}],
             "mark": {"type": "point", "shape": "M-1,0L1,0M0,-1L0,1", "filled": false, "size": 100, "strokeWidth": 1.3, "opacity": 1}},
            {"transform": [{"filter": {"field": "s", "oneOf": ["HCO3","Beecf"]}}],
             "mark": {"type": "point", "shape": "circle", "filled": false, "size": 95, "strokeWidth": 1.3, "opacity": 1}}
          ]
        }
      ]
    }
  ]
}
